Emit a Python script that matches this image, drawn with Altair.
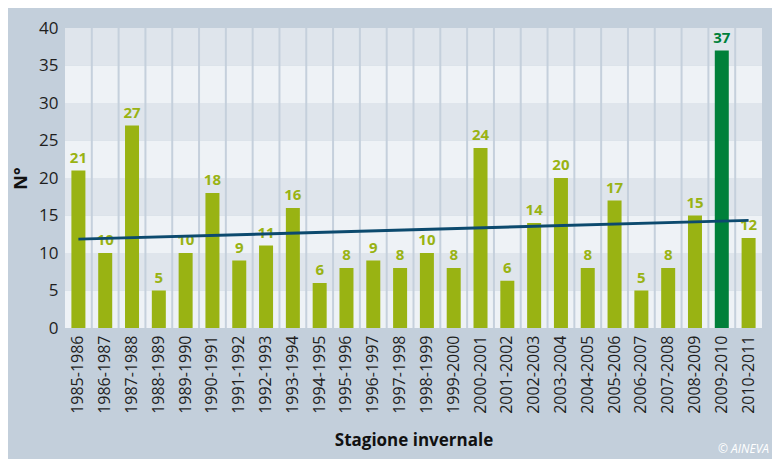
import altair as alt
import pandas as pd

# ---- data ----
seasons = ["1985-1986", "1986-1987", "1987-1988", "1988-1989", "1989-1990",
           "1990-1991", "1991-1992", "1992-1993", "1993-1994", "1994-1995",
           "1995-1996", "1996-1997", "1997-1998", "1998-1999", "1999-2000",
           "2000-2001", "2001-2002", "2002-2003", "2003-2004", "2004-2005",
           "2005-2006", "2006-2007", "2007-2008", "2008-2009", "2009-2010",
           "2010-2011"]
counts = [21, 10, 27, 5, 10, 18, 9, 11, 16, 6, 8, 9, 8, 10, 8, 24, 6.3, 14, 20,
          8, 17, 5, 8, 15, 37, 12]
count_labels = ["21", "10", "27", "5", "10", "18", "9", "11", "16", "6", "8", "9",
                "8", "10", "8", "24", "6", "14", "20", "8", "17", "5", "8", "15",
                "37", "12"]
highlight_season = "2009-2010"

trend_seasons = ["1985-1986", "2010-2011"]
trend_values = [11.85, 14.35]

band_lo = [0, 5, 10, 15, 20, 25, 30, 35]
band_hi = [5, 10, 15, 20, 25, 30, 35, 40]
band_shade = ["light", "dark", "light", "dark", "light", "dark", "light", "dark"]
y_ticks = [0, 5, 10, 15, 20, 25, 30, 35, 40]

# ---- styling ----
FONT = "Open Sans"
BG = "#c3cfdb"
W, H = 697, 300

bars_df = pd.DataFrame({
    "season": seasons,
    "count": counts,
    "label": count_labels,
    "group": ["highlight" if s == highlight_season else "normal" for s in seasons],
})
trend_df = pd.DataFrame({"season": trend_seasons, "trend": trend_values})
bands_df = pd.DataFrame({"lo": band_lo, "hi": band_hi, "shade": band_shade})
sep_df = pd.DataFrame({"season": seasons[1:]})

yscale = alt.Scale(domain=[0, 40], nice=False, zero=True)
xscale = alt.Scale(domain=seasons, paddingInner=0, paddingOuter=0)

yaxis = alt.Axis(values=y_ticks, grid=False, domain=False, ticks=False,
                 labelFontSize=17, labelColor="#1e1e1e", labelFont=FONT,
                 labelPadding=7, title="N°", titleFont=FONT, titleFontSize=18,
                 titleFontWeight="bold", titleColor="#111111", titleAngle=270,
                 titleX=-44, titleY=150, titleAlign="center",
                 titleBaseline="middle")
xaxis = alt.Axis(labelAngle=270, labelFontSize=16, labelColor="#1e1e1e",
                 labelFont=FONT, labelPadding=7, domain=False, ticks=False,
                 grid=False, title="Stagione invernale", titleFont=FONT,
                 titleFontSize=17, titleFontWeight="bold", titleColor="#111111",
                 titleX=W / 2, titleY=112, titleAlign="center",
                 titleBaseline="middle")

color_scale = alt.Scale(domain=["normal", "highlight"], range=["#99b313", "#00803a"])

bands = alt.Chart(bands_df).mark_rect().encode(
    x=alt.value(0), x2=alt.value(W),
    y=alt.Y("lo:Q", scale=yscale, axis=yaxis, title="N°"), y2="hi:Q",
    fill=alt.Fill("shade:N", scale=alt.Scale(domain=["light", "dark"],
                                             range=["#eef2f6", "#dfe5ec"]),
                  legend=None),
)

seps = alt.Chart(sep_df).mark_rule(color="#c5d0dc", strokeWidth=2).encode(
    x=alt.X("season:N", bandPosition=0, scale=xscale, axis=xaxis, sort=seasons),
    y=alt.value(0), y2=alt.value(H),
)

bars = alt.Chart(bars_df).mark_bar(size=14).encode(
    x=alt.X("season:N", scale=xscale, axis=xaxis, sort=seasons),
    y=alt.Y("count:Q", scale=yscale, axis=yaxis, title="N°"),
    color=alt.Color("group:N", scale=color_scale, legend=None),
)

labels = alt.Chart(bars_df).mark_text(
    dy=-8, baseline="alphabetic", fontWeight="bold", fontSize=15, font=FONT
).encode(
    x=alt.X("season:N", scale=xscale, axis=xaxis, sort=seasons),
    y=alt.Y("count:Q", scale=yscale, axis=yaxis, title="N°"),
    text="label:N",
    color=alt.Color("group:N", scale=color_scale, legend=None),
)

trend = alt.Chart(trend_df).mark_line(color="#0c4a6e", strokeWidth=3).encode(
    x=alt.X("season:N", scale=xscale, axis=xaxis, sort=seasons),
    y=alt.Y("trend:Q", scale=yscale, axis=yaxis, title="N°"),
)

credit = alt.Chart(pd.DataFrame({"t": ["© AINEVA"]})).mark_text(
    align="right", baseline="middle", fontSize=12, fontStyle="italic",
    font=FONT, color="#ffffff"
).encode(text="t:N", x=alt.value(W + 7), y=alt.value(421))

chart = alt.layer(bands, seps, bars, labels, trend, credit).resolve_scale(
    color="independent", fill="independent"
).properties(
    width=W, height=H,
    background=BG,
    padding={"left": 57, "top": 20, "right": 10, "bottom": 131},
    autosize=alt.AutoSizeParams(type="none"),
).configure_view(stroke=None)

chart.save("out.html", embed_options={"renderer": "svg", "actions": False})
